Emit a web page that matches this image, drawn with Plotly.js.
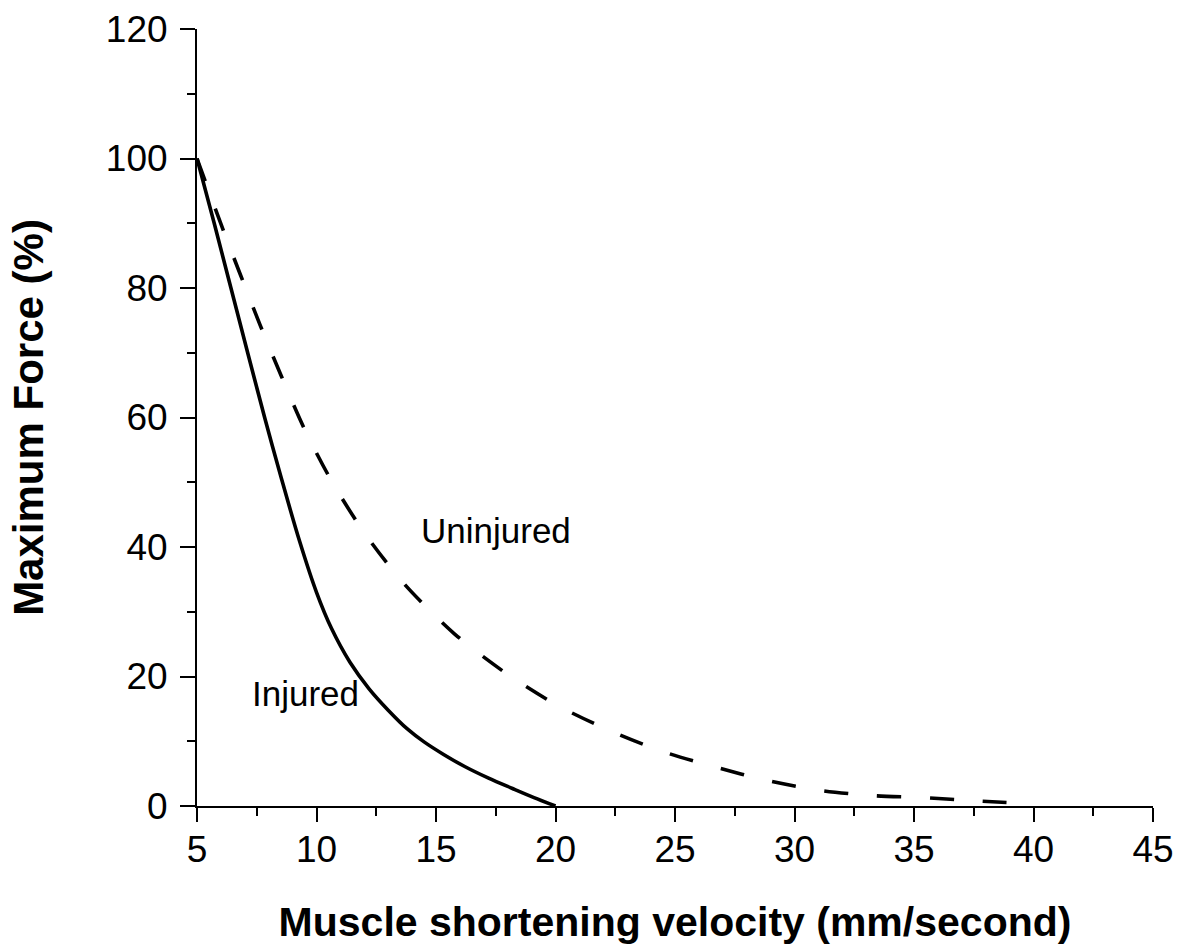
<!DOCTYPE html>
<html>
<head>
<meta charset="utf-8">
<script src="https://cdn.plot.ly/plotly-3.0.1.min.js"></script>
<style>
  html, body { margin: 0; padding: 0; background: #ffffff; }
  #chart { width: 1189px; height: 945px; }
</style>
</head>
<body>
<div id="chart"></div>
<script>
// Injured (solid line)
var injuredX = [5, 5.72, 6.42, 7.12, 7.83, 8.5, 9.3, 10.0, 10.63, 11.4, 12.2, 13.0, 13.8, 14.5, 15.3, 16.2, 17.2, 18.2, 19.1, 20];
var injuredY = [100, 90, 80, 70, 60, 51, 40.8, 33.0, 27.4, 22.2, 18.1, 14.8, 11.9, 9.9, 8.0, 6.1, 4.3, 2.7, 1.3, 0];

// Uninjured (dashed line)
var uninjuredX = [5, 5.97, 6.8, 7.65, 8.54, 9.5, 10.63, 12.0, 13.67, 15.77, 17.93, 20.1, 22.3, 24.5, 26.7, 28.9, 31.1, 33.3, 35.4, 37.6, 40];
var uninjuredY = [100, 90.2, 82.2, 74.2, 66.3, 58.2, 50.2, 42.2, 34.3, 26.6, 20.5, 15.5, 11.6, 8.4, 6.0, 3.9, 2.4, 1.6, 1.3, 0.8, 0.3];

// Axis ticks
var xTickVals = [5, 10, 15, 20, 25, 30, 35, 40, 45];
var xTickText = ['5', '10', '15', '20', '25', '30', '35', '40', '45'];
var yTickVals = [0, 20, 40, 60, 80, 100, 120];
var yTickText = ['0', '20', '40', '60', '80', '100', '120'];

// Curve labels
var labelText = ['Uninjured', 'Injured'];
var labelX = [17.53, 9.52];
var labelY = [42.5, 17.3];

var FONT = 'Liberation Sans, Arial, Helvetica, sans-serif';

var traces = [
  {
    x: injuredX, y: injuredY, type: 'scatter', mode: 'lines',
    line: { color: '#000000', width: 3.6, shape: 'spline', smoothing: 1 },
    name: 'Injured', hoverinfo: 'x+y'
  },
  {
    x: uninjuredX, y: uninjuredY, type: 'scatter', mode: 'lines',
    line: { color: '#000000', width: 3.6, dash: '24px,29px', shape: 'spline', smoothing: 0.8 },
    name: 'Uninjured', hoverinfo: 'x+y'
  }
];

var annotations = labelText.map(function (t, i) {
  return {
    x: labelX[i], y: labelY[i], xref: 'x', yref: 'y',
    text: t, showarrow: false, xanchor: 'center', yanchor: 'middle',
    font: { family: FONT, size: 35, color: '#000000' }
  };
});

var layout = {
  width: 1189, height: 945,
  paper_bgcolor: '#ffffff', plot_bgcolor: '#ffffff',
  margin: { l: 197, r: 36, t: 29, b: 139, pad: 0 },
  showlegend: false,
  font: { family: FONT, color: '#000000' },
  xaxis: {
    range: [5, 45], autorange: false,
    tickmode: 'array', tickvals: xTickVals, ticktext: xTickText,
    ticks: 'outside', ticklen: 14, tickwidth: 2, tickcolor: '#000000',
    ticklabelstandoff: -4,
    minor: { dtick: 2.5, tick0: 5, ticks: 'outside', ticklen: 8, tickwidth: 2, tickcolor: '#000000', showgrid: false },
    showline: true, linecolor: '#000000', linewidth: 2,
    showgrid: false, zeroline: false,
    tickfont: { family: FONT, size: 37, color: '#000000' },
    title: { text: 'Muscle shortening velocity (mm/second)', standoff: 42,
             font: { family: FONT, size: 41, color: '#000000', weight: 'bold' } }
  },
  yaxis: {
    range: [0, 120], autorange: false,
    tickmode: 'array', tickvals: yTickVals, ticktext: yTickText,
    ticks: 'outside', ticklen: 15, tickwidth: 2, tickcolor: '#000000',
    ticklabelstandoff: 5,
    minor: { dtick: 10, tick0: 0, ticks: 'outside', ticklen: 8, tickwidth: 2, tickcolor: '#000000', showgrid: false },
    showline: true, linecolor: '#000000', linewidth: 2,
    showgrid: false, zeroline: false,
    tickfont: { family: FONT, size: 37, color: '#000000' },
    title: { text: 'Maximum Force (%)', standoff: 49,
             font: { family: FONT, size: 42, color: '#000000', weight: 'bold' } }
  },
  annotations: annotations
};

Plotly.newPlot('chart', traces, layout, { displayModeBar: false, staticPlot: true });
</script>
</body>
</html>
